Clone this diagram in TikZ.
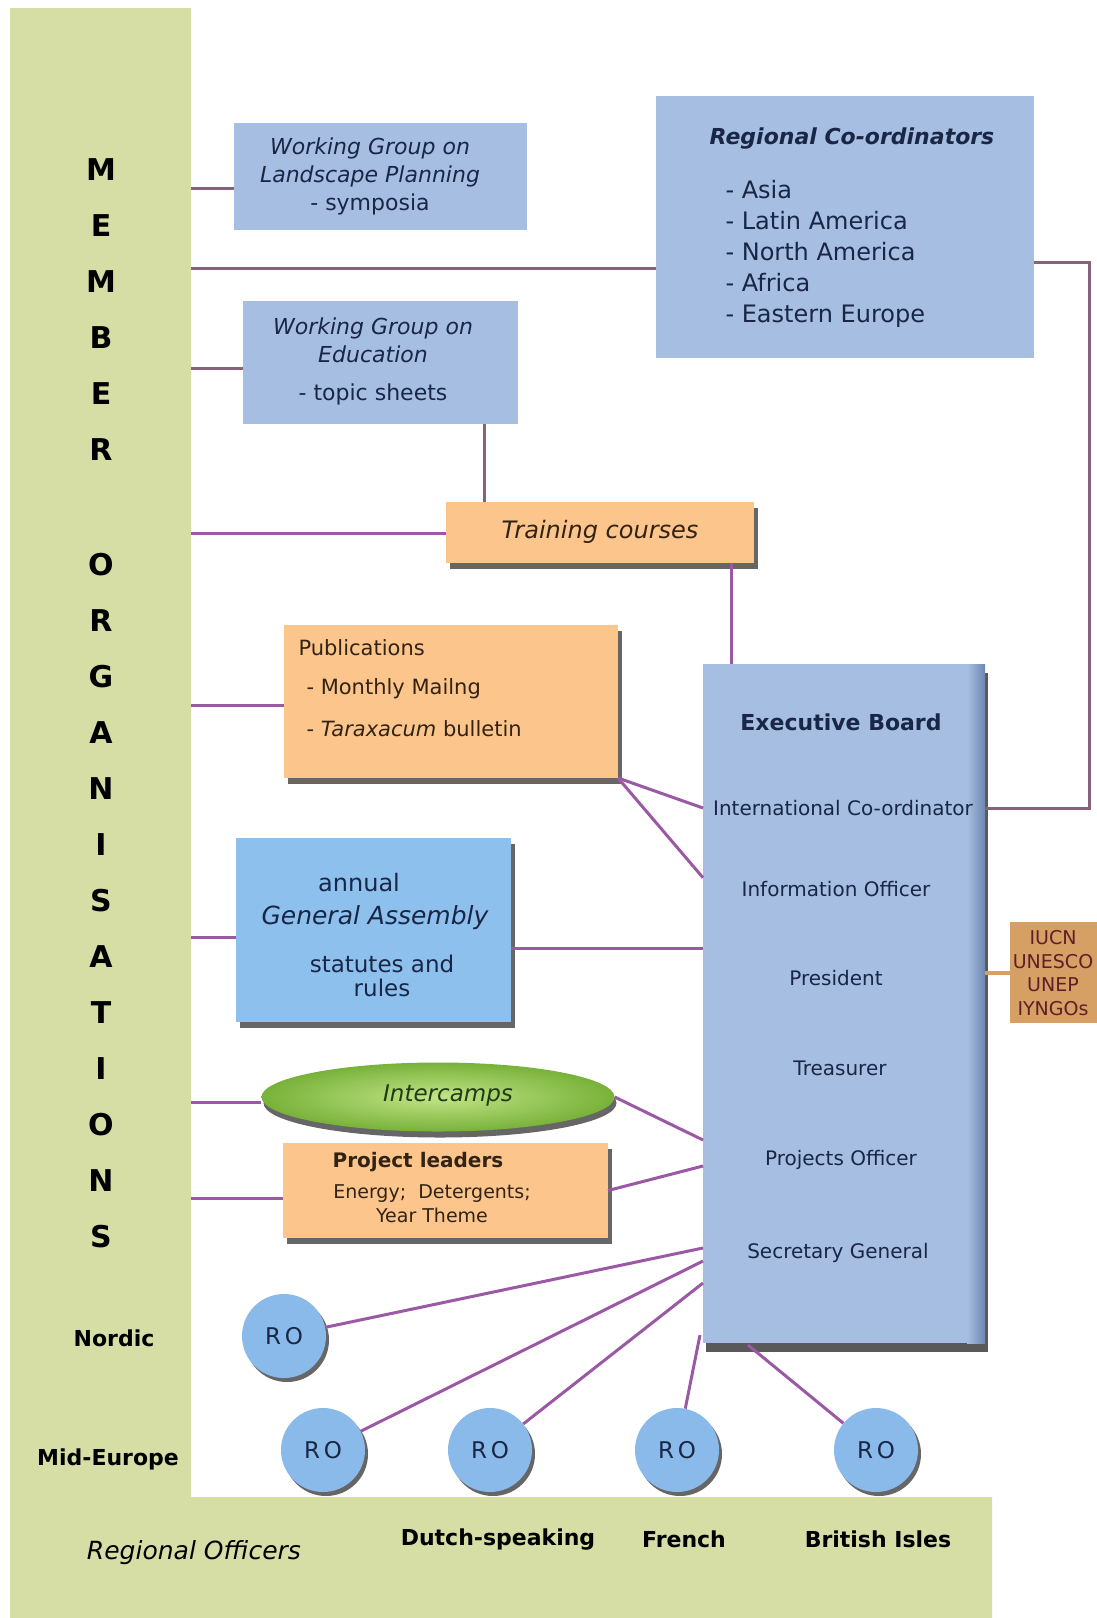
\documentclass[tikz,border=0pt]{standalone}
\usepackage{fontspec}
\setmainfont{DejaVu Sans}
\usetikzlibrary{shapes.geometric,shadows,calc}
\definecolor{stripgreen}{RGB}{214,222,166}
\definecolor{boxblue}{RGB}{165,190,225}
\definecolor{boxbluedark}{RGB}{110,135,175}
\definecolor{gablue}{RGB}{142,192,238}
\definecolor{peach}{RGB}{252,197,140}
\definecolor{roblue}{RGB}{137,186,234}
\definecolor{linepurple}{RGB}{155,88,165}
\definecolor{linemauve}{RGB}{135,98,122}
\definecolor{etan}{RGB}{214,160,100}
\definecolor{enavy}{RGB}{25,38,70}
\definecolor{ebrown}{RGB}{50,35,20}
\definecolor{emaroon}{RGB}{95,30,40}
\definecolor{edarkgreen}{RGB}{30,60,20}
\definecolor{icin}{RGB}{195,228,135}
\definecolor{icout}{RGB}{120,178,58}
\newcommand\myfs[2]{\fontsize{#1}{#2}\selectfont}
\begin{document}
\begin{tikzpicture}[x=1pt,y=-1pt,
  panel/.style={rectangle,inner sep=0pt,outer sep=0pt,anchor=north west},
  shadowed/.style={drop shadow={shadow xshift=4pt,shadow yshift=-6pt,fill=black,opacity=0.6}},
  conn/.style={draw=linepurple,line width=3pt},
  connm/.style={draw=linemauve,line width=3pt},
  connt/.style={draw=etan,line width=4pt},
  letter/.style={font=\myfs{30}{30}\bfseries,text=black},
  ro/.style={circle,fill=roblue,minimum size=84pt,inner sep=0pt,text=enavy,font=\myfs{23}{23},
     drop shadow={shadow xshift=3pt,shadow yshift=-4pt,fill=black,opacity=0.6}},
  btxt/.style={text=enavy},
  otxt/.style={text=ebrown},
  lbl/.style={text=black,font=\myfs{22}{22}\bfseries}
]
\useasboundingbox (0,0) rectangle (1097,1618);
\fill[white] (0,0) rectangle (1097,1618);
% green L-shaped strip
\fill[stripgreen] (10,8) -- (191,8) -- (191,1497) -- (992,1497) -- (992,1618) -- (10,1618) -- cycle;

% vertical letters
\foreach \l [count=\i] in {M,E,M,B,E,R}
  \node[letter] (mem\i) at (101,{170+56*(\i-1)}) {\l};
\foreach \l [count=\i] in {O,R,G,A,N,I,S,A,T,I,O,N,S}
  \node[letter] (org\i) at (101,{565+56*(\i-1)}) {\l};

% anchor coordinates
\coordinate (s1) at (191,188);
\coordinate (s2) at (191,268);
\coordinate (s3) at (191,368);
\coordinate (s4) at (191,533);
\coordinate (s5) at (191,705);
\coordinate (s6) at (191,937);
\coordinate (s7) at (191,1102);
\coordinate (s8) at (191,1198);
\coordinate (wx) at (484,0);
\coordinate (tx) at (731,0);
\coordinate (rc) at (1089,262);
\coordinate (g2) at (511,948);
\coordinate (ex1) at (703,1140);
\coordinate (ex2) at (703,1166);
\coordinate (e1) at (703,1248);
\coordinate (e2) at (703,1261);
\coordinate (e3) at (703,1283);
\coordinate (e4) at (700,1335);
\coordinate (e5) at (748,1345);

% boxes
\node[panel,fill=boxblue,minimum width=293pt,minimum height=107pt] (wgl) at (234,123) {};
\node[panel,fill=boxblue,minimum width=275pt,minimum height=123pt] (wge) at (243,301) {};
\node[panel,fill=boxblue,minimum width=378pt,minimum height=262pt] (regco) at (656,96) {};
\node[panel,fill=peach,shadowed,minimum width=308pt,minimum height=61pt] (train) at (446,502) {};
\node[panel,fill=peach,shadowed,minimum width=334pt,minimum height=153pt] (pub) at (284,625) {};
\node[panel,fill=boxblue,drop shadow={shadow xshift=3pt,shadow yshift=-9pt,fill=black,opacity=0.65},minimum width=282pt,minimum height=679pt] (exec) at (703,664) {};
\shade[left color=boxblue,right color=boxbluedark] (967,664) rectangle (985,1343);
\node[panel,fill=gablue,shadowed,minimum width=275pt,minimum height=184pt] (ga) at (236,838) {};
\node[ellipse,inner sep=0pt,minimum width=353pt,minimum height=69pt,inner color=icin,outer color=icout,
      drop shadow={shadow xshift=2pt,shadow yshift=-6pt,fill=black,opacity=0.6}] (icamp) at (438,1097) {};
\node[panel,fill=peach,shadowed,minimum width=325pt,minimum height=95pt] (pl) at (283,1143) {};
\node[panel,fill=etan,minimum width=87pt,minimum height=101pt] (iucn) at (1010,922) {};

% RO circles
\node[ro] (ro1) at (284,1336) {R\,O};
\node[ro] (ro2) at (323,1450) {R\,O};
\node[ro] (ro3) at (490,1450) {R\,O};
\node[ro] (ro4) at (677,1450) {R\,O};
\node[ro] (ro5) at (876,1450) {R\,O};

% texts in boxes
\node[btxt,font=\myfs{22}{28}\itshape,align=center] (wgltext) at (370,176) {Working Group on\\Landscape Planning\\{\upshape - symposia}};
\node[btxt,font=\myfs{22}{28}\itshape,align=center] (wgetext) at (373,361) {Working Group on\\Education\\[10pt]{\upshape - topic sheets}};
\node[btxt,font=\myfs{22}{22}\bfseries\itshape] (rctitle) at (852,139) {Regional Co-ordinators};
\node[btxt,font=\myfs{24}{31},align=left,anchor=west] (rclist) at (722,254) {- Asia\\- Latin America\\- North America\\- Africa\\- Eastern Europe};
\node[otxt,font=\myfs{24}{24}\itshape] (traintext) at (600,532) {Training courses};
\node[otxt,font=\myfs{21}{21},anchor=west] (pub1) at (295,648) {Publications};
\node[otxt,font=\myfs{21}{21},anchor=west] (pub2) at (303,689) {- Monthly Mailng};
\node[otxt,font=\myfs{21}{21},anchor=west] (pub3) at (303,729) {- \textit{Taraxacum} bulletin};

\node[btxt,font=\myfs{22}{22}\bfseries] (ebtitle) at (841,722) {Executive Board};
\node[btxt,font=\myfs{20}{20}] (ic) at (843,808) {International Co-ordinator};
\node[btxt,font=\myfs{20}{20}] (io) at (836,889) {Information Officer};
\node[btxt,font=\myfs{20}{20}] (pres) at (836,978) {President};
\node[btxt,font=\myfs{20}{20}] (treas) at (840,1068) {Treasurer};
\node[btxt,font=\myfs{20}{20}] (po) at (841,1160) {Projects Officer};
\node[btxt,font=\myfs{20}{20}] (sg) at (838,1253) {Secretary General};

\node[btxt,font=\myfs{24}{24}] (ga1) at (359,883) {annual};
\node[btxt,font=\myfs{25}{25}\itshape] (ga2) at (375,918) {General Assembly};
\node[btxt,font=\myfs{23}{24},align=center] (ga3) at (382,976) {statutes and\\rules};

\node[text=edarkgreen,font=\myfs{23}{23}\itshape] (ictext) at (448,1095) {Intercamps};

\node[otxt,font=\myfs{20}{20}\bfseries] (pl1) at (418,1162) {Project leaders};
\node[otxt,font=\myfs{19}{24},align=center] (pl2) at (432,1204) {Energy;\ \ Detergents;\\Year Theme};

\node[text=emaroon,font=\myfs{19}{23.5},align=center] (iucntext) at (1053,973) {IUCN\\UNESCO\\UNEP\\IYNGOs};

% labels on the strip
\node[lbl] (nordic) at (114,1338) {Nordic};
\node[lbl] (mideu) at (108,1459) {Mid-Europe};
\node[text=black,font=\myfs{25}{25}\itshape] (regoff) at (194,1553) {Regional Officers};
\node[lbl] (dutch) at (498,1539) {Dutch-speaking};
\node[lbl] (french) at (684,1539) {French};
\node[lbl] (british) at (878,1539) {British Isles};

% connectors
\draw[connm] (s1) -- (s1 -| wgl.west);
\draw[connm] (s2) -- (s2 -| regco.west);
\draw[connm] (s3) -- (s3 -| wge.west);
\draw[connm] (wge.south -| wx) -- (train.north -| wx);
\draw[conn] (s4) -- (s4 -| train.west);
\draw[conn] (train.south -| tx) -- (exec.north -| tx);
\draw[conn] (s5) -- (s5 -| pub.west);
\draw[conn] (pub.south east) -- (exec.west |- ic);
\draw[conn] (pub.south east) -- (exec.west |- io.north);
\draw[connm] (regco.east |- rc) -- (rc) |- (exec.east |- ic);
\draw[conn] (s6) -- (s6 -| ga.west);
\draw[conn] (g2) -- (g2 -| exec.west);
\draw[connt] (exec.east |- iucn.west) -- (iucn.west);
\draw[conn] (s7) -- (s7 -| icamp.west);
\draw[conn] (icamp.east) -- (ex1);
\draw[conn] (s8) -- (s8 -| pl.west);
\draw[conn] (pl.east) -- (ex2);
\draw[conn] (ro1) -- (e1);
\draw[conn] (ro2) -- (e2);
\draw[conn] (ro3) -- (e3);
\draw[conn] (ro4) -- (e4);
\draw[conn] (ro5) -- (e5);
\end{tikzpicture}
\end{document}
